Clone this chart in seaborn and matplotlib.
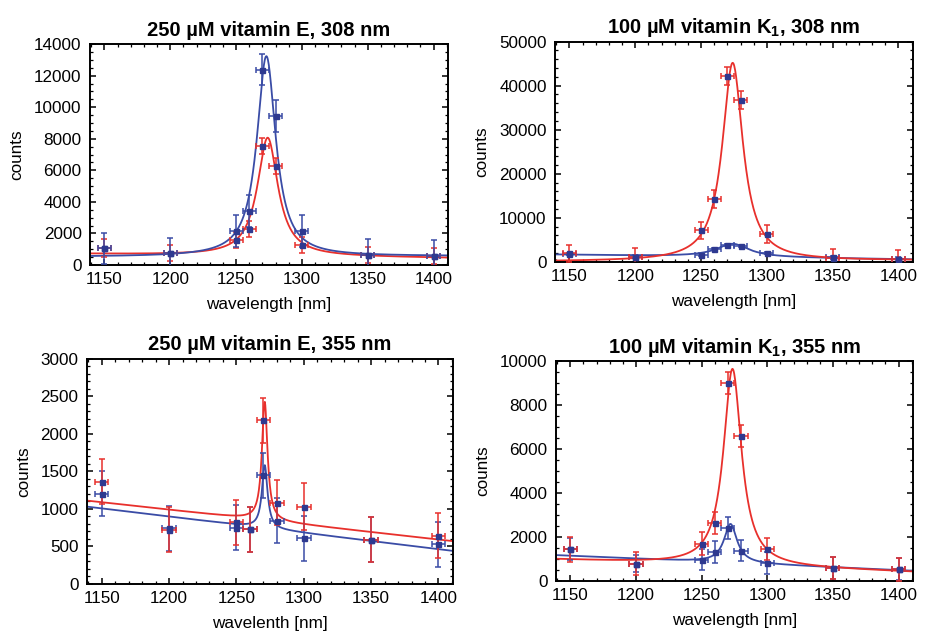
import numpy as np
import pandas as pd
import matplotlib
matplotlib.use("Agg")
import matplotlib.pyplot as plt
import seaborn as sns
from matplotlib.ticker import MultipleLocator, AutoMinorLocator

# measured wavelengths (same for every panel) and their +-5 nm bandwidth
wl = [1150, 1200, 1250, 1260, 1270, 1280, 1300, 1350, 1400]
wl_err = 5

# 250 uM vitamin E, 308 nm
e308_blue = [1060, 740, 2150, 3420, 12390, 9440, 2150, 630, 570]
e308_blue_err = [1000, 1000, 1000, 1000, 1000, 1000, 1000, 1000, 1000]
e308_red = [1060, 740, 1580, 2280, 7540, 6290, 1270, 630, 570]
e308_red_err = [570, 500, 500, 520, 500, 510, 500, 520, 480]

# 100 uM vitamin K1, 308 nm
k308_blue = [1800, 1200, 1670, 2960, 3790, 3570, 2050, 1000, 700]
k308_blue_err = [300, 300, 300, 300, 300, 300, 300, 300, 300]
k308_red = [1900, 1140, 7130, 14190, 42260, 36800, 6370, 910, 680]
k308_red_err = [2000, 2000, 2000, 2050, 2050, 2050, 2000, 2100, 2000]

# 250 uM vitamin E, 355 nm
e355_blue = [1200, 740, 750, 730, 1450, 845, 610, 590, 530]
e355_blue_err = [300, 300, 300, 300, 300, 300, 300, 300, 300]
e355_red = [1360, 720, 820, 730, 2180, 1080, 1030, 590, 645]
e355_red_err = [300, 300, 300, 300, 300, 300, 310, 300, 300]

# 100 uM vitamin K1, 355 nm
k355_blue = [1440, 800, 970, 1320, 2420, 1390, 830, 600, 545]
k355_blue_err = [500, 400, 480, 500, 490, 490, 490, 500, 500]
k355_red = [1440, 790, 1700, 2640, 9000, 6590, 1450, 600, 545]
k355_red_err = [560, 520, 520, 500, 500, 500, 500, 510, 520]

# Lorentzian fit:
# baseline at 1139 nm, baseline at 1411 nm, peak height, centre, half width
e308_blue_fit = [520, 560, 12700, 1273, 8.7]
e308_red_fit = [700, 440, 7500, 1274, 9.5]
k308_blue_fit = [1660, 550, 3000, 1274, 15]
k308_red_fit = [80, 310, 45000, 1274, 9.5]
e355_blue_fit = [1030, 440, 840, 1271, 2.5]
e355_red_fit = [1110, 570, 1580, 1271, 2.5]
k355_blue_fit = [1180, 470, 1765, 1272, 6]
k355_red_fit = [985, 410, 8940, 1273.5, 8.3]

RED = "#e8302c"
BLUE = "#3a4ca6"
MARK = "#2e3990"
XMIN, XMAX = 1139, 1411

sns.set_style("ticks")
plt.rcParams["font.family"] = ["Liberation Sans", "DejaVu Sans"]
plt.rcParams["mathtext.default"] = "regular"
for key in ["text.color", "axes.labelcolor", "xtick.color", "ytick.color"]:
    plt.rcParams[key] = "black"


def fit_curve(p):
    x = np.linspace(XMIN, XMAX, 800)
    b0, b1, amp, x0, g = p
    base = b0 + (b1 - b0) * (x - XMIN) / (XMAX - XMIN)
    return pd.DataFrame({"x": x, "y": base + amp * g**2 / ((x - x0)**2 + g**2)})


def panel(ax, title, xlabel, ymax, ystep, series):
    for y, yerr, fit, col in series:
        df = fit_curve(fit)
        sns.lineplot(data=df, x="x", y="y", ax=ax, color=col, lw=1.3)
        ax.errorbar(wl, y, xerr=wl_err, yerr=yerr, fmt="s", ms=3.6,
                    mfc=MARK, mec=MARK, ecolor=col, elinewidth=1.1,
                    capsize=2.2, capthick=1.1, zorder=3)
    ax.set_xlim(XMIN, XMAX)
    ax.set_ylim(0, ymax)
    ax.xaxis.set_major_locator(MultipleLocator(50))
    ax.xaxis.set_minor_locator(MultipleLocator(10))
    ax.yaxis.set_major_locator(MultipleLocator(ystep))
    ax.yaxis.set_minor_locator(AutoMinorLocator())
    ax.tick_params(which="both", direction="in", top=True, right=True,
                   colors="black", labelsize=12.3)
    ax.tick_params(which="major", length=4, width=1.1)
    ax.tick_params(which="minor", length=2, width=0.9)
    ax.tick_params(axis="x", pad=5)
    ax.tick_params(axis="y", pad=6)
    for s in ax.spines.values():
        s.set_linewidth(1.4)
        s.set_color("black")
    ax.set_title(title, fontsize=14.5, fontweight="bold", pad=6)
    ax.set_xlabel(xlabel, fontsize=12.3, labelpad=7)
    ax.set_ylabel("counts", fontsize=12.3, labelpad=7)


fig = plt.figure(figsize=(9.25, 6.31), dpi=100)
ax1 = fig.add_axes([0.0973, 0.580, 0.387, 0.350])
ax2 = fig.add_axes([0.600, 0.585, 0.387, 0.349])
ax3 = fig.add_axes([0.094, 0.0745, 0.396, 0.357])
ax4 = fig.add_axes([0.601, 0.079, 0.386, 0.349])

panel(ax1, "250 µM vitamin E, 308 nm", "wavelength [nm]", 14000, 2000,
      [(e308_red, e308_red_err, e308_red_fit, RED),
       (e308_blue, e308_blue_err, e308_blue_fit, BLUE)])
panel(ax2, "100 µM vitamin K$_1$, 308 nm", "wavelength [nm]", 50000, 10000,
      [(k308_blue, k308_blue_err, k308_blue_fit, BLUE),
       (k308_red, k308_red_err, k308_red_fit, RED)])
panel(ax3, "250 µM vitamin E, 355 nm", "wavelenth [nm]", 3000, 500,
      [(e355_blue, e355_blue_err, e355_blue_fit, BLUE),
       (e355_red, e355_red_err, e355_red_fit, RED)])
panel(ax4, "100 µM vitamin K$_1$, 355 nm", "wavelength [nm]", 10000, 2000,
      [(k355_blue, k355_blue_err, k355_blue_fit, BLUE),
       (k355_red, k355_red_err, k355_red_fit, RED)])

fig.savefig("out.png", dpi=100)
